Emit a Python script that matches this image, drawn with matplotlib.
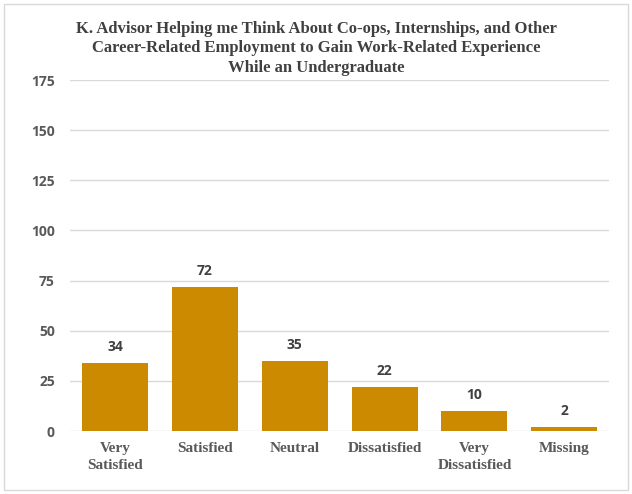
import matplotlib.pyplot as plt
from matplotlib.patches import Rectangle

categories = ['Very\nSatisfied', 'Satisfied', 'Neutral', 'Dissatisfied',
              'Very\nDissatisfied', 'Missing']
counts = [34, 72, 35, 22, 10, 2]
yticks = [0, 25, 50, 75, 100, 125, 150, 175]

title = ('K. Advisor Helping me Think About Co-ops, Internships, and Other\n'
         'Career-Related Employment to Gain Work-Related Experience\n'
         'While an Undergraduate')

fig = plt.figure(figsize=(6.32, 4.94), dpi=100)
ax = fig.add_axes([0.111, 0.1275, 0.853, 0.7105])

x = range(len(categories))
bars = ax.bar(x, counts, width=0.735, color='#CC8A00', zorder=3)

for xi, v in zip(x, counts):
    ax.text(xi, v + 4.5, str(v), ha='center', va='bottom', fontsize=10,
            fontweight='bold', color='#404040', family='Open Sans')

ax.set_xlim(-0.5, len(categories) - 0.5)
ax.set_ylim(0, 175)
ax.set_yticks(yticks)
ax.set_yticklabels([str(t) for t in yticks], fontsize=10, fontweight='bold',
                   color='#595959', family='Open Sans')
ax.set_xticks(list(x))
ax.set_xticklabels(categories, fontsize=11, fontweight='bold',
                   color='#595959', family='Liberation Serif', linespacing=1.35)
ax.tick_params(axis='both', length=0)
ax.tick_params(axis='y', pad=11)
ax.tick_params(axis='x', pad=8)
ax.grid(axis='y', color='#d9d9d9', linewidth=1, zorder=0)
for s in ax.spines.values():
    s.set_visible(False)

fig.text(0.5, 0.958, title, ha='center', va='top', fontsize=12,
         fontweight='bold', color='#404040', family='Liberation Serif',
         linespacing=1.3)

fig.patches.append(Rectangle((0.006, 0.008), 0.988, 0.984,
                             transform=fig.transFigure, fill=False,
                             edgecolor='#d9d9d9', linewidth=1))

fig.savefig('out.png', dpi=100)
